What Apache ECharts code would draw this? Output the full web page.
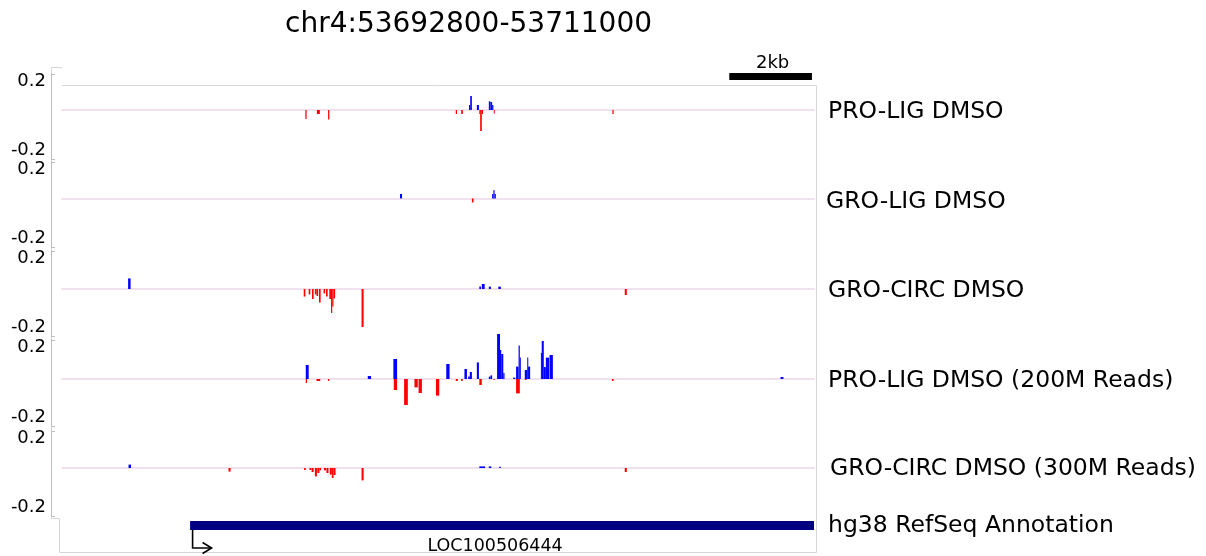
<!DOCTYPE html>
<html>
<head>
<meta charset="utf-8">
<script src="https://cdn.jsdelivr.net/npm/echarts@6/dist/echarts.min.js"></script>
<style>
  html, body { margin: 0; padding: 0; background: #fff; }
  #chart { width: 1206px; height: 556px; }
</style>
</head>
<body>
<div id="chart"></div>
<script>
// Genomic window shown
const REGION_CHROM = 'chr4';
const REGION_START = 53692800;
const REGION_END = 53711000;

// Track names, top to bottom
const trackNames = [
  'PRO-LIG DMSO',
  'GRO-LIG DMSO',
  'GRO-CIRC DMSO',
  'PRO-LIG DMSO (200M Reads)',
  'GRO-CIRC DMSO (300M Reads)'
];

// Signal intervals [start, end, value] (bedGraph style), plus / minus strand
const proLigPlus = [
  [53702650, 53702680, 0.025], [53702680, 53702720, 0.07],
  [53702840, 53702890, 0.025], [53703130, 53703170, 0.043],
  [53703170, 53703210, 0.04], [53703210, 53703240, 0.025]
];
const proLigMinus = [
  [53698690, 53698720, -0.045], [53698970, 53699040, -0.02],
  [53699240, 53699270, -0.047], [53702330, 53702360, -0.02],
  [53702460, 53702500, -0.02], [53702900, 53702920, -0.02],
  [53702920, 53702960, -0.105], [53702960, 53702990, -0.02],
  [53703250, 53703270, -0.018], [53706120, 53706150, -0.02]
];

const groLigPlus = [
  [53700980, 53701030, 0.022], [53703210, 53703240, 0.022],
  [53703240, 53703270, 0.04], [53703270, 53703300, 0.022]
];
const groLigMinus = [
  [53702720, 53702760, -0.02]
];

const groCircPlus = [
  [53694400, 53694460, 0.053], [53702900, 53702940, 0.012],
  [53702960, 53703030, 0.025], [53703130, 53703180, 0.012],
  [53703360, 53703420, 0.012]
];
const groCircMinus = [
  [53698650, 53698690, -0.038], [53698770, 53698810, -0.027],
  [53698850, 53698890, -0.05], [53698920, 53698960, -0.027],
  [53698960, 53699000, -0.035], [53699020, 53699060, -0.068],
  [53699130, 53699170, -0.022], [53699190, 53699230, -0.038],
  [53699270, 53699310, -0.05], [53699310, 53699340, -0.12],
  [53699340, 53699370, -0.088], [53699370, 53699410, -0.047],
  [53700050, 53700100, -0.19], [53706420, 53706470, -0.03]
];

const proLig200Plus = [
  [53698700, 53698770, 0.07], [53700200, 53700280, 0.015],
  [53700820, 53700910, 0.1], [53702100, 53702180, 0.075],
  [53702540, 53702600, 0.05], [53702630, 53702670, 0.013],
  [53702670, 53702720, 0.035], [53702840, 53702890, 0.083],
  [53703130, 53703170, 0.012], [53703170, 53703210, 0.018],
  [53703330, 53703400, 0.225], [53703400, 53703430, 0.145],
  [53703430, 53703480, 0.125], [53703480, 53703510, 0.03],
  [53703720, 53703770, 0.007], [53703790, 53703850, 0.062],
  [53703850, 53703880, 0.167], [53703880, 53703900, 0.107],
  [53704000, 53704060, 0.045], [53704060, 53704080, 0.107],
  [53704080, 53704130, 0.062], [53704390, 53704410, 0.13],
  [53704410, 53704460, 0.19], [53704460, 53704510, 0.06],
  [53704510, 53704590, 0.107], [53704600, 53704680, 0.12],
  [53710190, 53710260, 0.01]
];
const proLig200Minus = [
  [53698700, 53698730, -0.02], [53698960, 53699050, -0.01],
  [53699240, 53699270, -0.01], [53700830, 53700910, -0.055],
  [53701080, 53701170, -0.13], [53701330, 53701410, -0.042],
  [53701430, 53701510, -0.07], [53701850, 53701930, -0.083],
  [53702330, 53702380, -0.01], [53702460, 53702500, -0.01],
  [53702900, 53702960, -0.03], [53703240, 53703270, -0.005],
  [53703790, 53703880, -0.072], [53704000, 53704040, -0.005],
  [53706110, 53706150, -0.01]
];

const groCirc300Plus = [
  [53694410, 53694470, 0.017], [53702900, 53703040, 0.008],
  [53703130, 53703190, 0.008], [53703380, 53703420, 0.006]
];
const groCirc300Minus = [
  [53696830, 53696880, -0.018], [53698660, 53698700, -0.01],
  [53698790, 53698830, -0.01], [53698840, 53698890, -0.02],
  [53698920, 53698970, -0.042], [53698980, 53699030, -0.025],
  [53699030, 53699070, -0.012], [53699140, 53699190, -0.012],
  [53699200, 53699250, -0.025], [53699280, 53699330, -0.033],
  [53699330, 53699370, -0.05], [53699370, 53699420, -0.035],
  [53700050, 53700100, -0.062], [53706420, 53706470, -0.02]
];

const plusTracks = [proLigPlus, groLigPlus, groCircPlus, proLig200Plus, groCirc300Plus];
const minusTracks = [proLigMinus, groLigMinus, groCircMinus, proLig200Minus, groCirc300Minus];

// Value range of each track [min, max]
const trackRanges = [
  [-0.245, 0.18],
  [-0.24, 0.18],
  [-0.235, 0.19],
  [-0.235, 0.195],
  [-0.24, 0.185]
];

// RefSeq annotation
const annotationName = 'hg38 RefSeq Annotation';
const genes = [
  { name: 'LOC100506444', start: 53695900, end: 53712500, strand: '+' }
];

// Scale bar
const scaleBar = { start: 53708950, end: 53710950, label: '2kb' };

// ---- layout ----
const FONT = '"DejaVu Sans", "Liberation Sans", sans-serif';
const PLOT_LEFT = 62;
const PLOT_WIDTH = 752;
const trackTops = [74, 162, 251, 340, 431];
const trackHeights = [85, 85, 85, 86, 85];
const labelX = [828, 826, 828, 828, 830];
const labelY = [112, 202, 291, 381, 469];
const PLUS_COLOR = '#0000ff';
const MINUS_COLOR = '#ff0000';

const chart = echarts.init(document.getElementById('chart'), null, { renderer: 'canvas' });

const grids = [];
const xAxes = [];
const yAxes = [];
const series = [];

function signalRenderer(color) {
  return function (params, api) {
    const a = api.coord([api.value(0), 0]);
    const b = api.coord([api.value(1), api.value(2)]);
    return {
      type: 'rect',
      shape: {
        x: a[0],
        y: Math.min(a[1], b[1]),
        width: Math.max(b[0] - a[0], 1),
        height: Math.abs(b[1] - a[1])
      },
      style: { fill: color }
    };
  };
}

trackNames.forEach((name, i) => {
  const [ymin, ymax] = trackRanges[i];
  grids.push({ left: PLOT_LEFT, width: PLOT_WIDTH, top: trackTops[i], height: trackHeights[i] });
  xAxes.push({
    type: 'value', gridIndex: i, min: REGION_START, max: REGION_END,
    axisLine: { show: true, onZero: true, lineStyle: { color: '#f1e1ee', width: 2 } },
    axisTick: { show: false }, axisLabel: { show: false }, splitLine: { show: false }
  });
  yAxes.push({
    type: 'value', gridIndex: i, min: ymin, max: ymax, position: 'left', offset: 11,
    axisLine: { show: true, lineStyle: { color: '#bdbdbd', width: 1 } },
    axisTick: { show: true, inside: true, length: 4, customValues: [ymin, ymax],
      lineStyle: { color: '#bdbdbd' } },
    axisLabel: {
      show: true, customValues: [ymin, ymax], margin: 5,
      formatter: v => (v > 0 ? '{hi|' : '{lo|') + v.toFixed(1) + '}',
      rich: {
        hi: { fontFamily: FONT, fontSize: 18, color: '#000', padding: [14, 0, 0, 0] },
        lo: { fontFamily: FONT, fontSize: 18, color: '#000', padding: [0, 0, 18, 0] }
      }
    },
    splitLine: { show: false }
  });
  series.push({
    type: 'custom', name: name + ' +', xAxisIndex: i, yAxisIndex: i,
    encode: { x: [0, 1], y: 2 }, data: plusTracks[i], renderItem: signalRenderer(PLUS_COLOR),
    silent: true
  });
  series.push({
    type: 'custom', name: name + ' -', xAxisIndex: i, yAxisIndex: i,
    encode: { x: [0, 1], y: 2 }, data: minusTracks[i], renderItem: signalRenderer(MINUS_COLOR),
    silent: true
  });
});

// gene annotation panel
const GENE_GRID = trackNames.length;
grids.push({ left: PLOT_LEFT, width: PLOT_WIDTH, top: 518, height: 34 });
xAxes.push({ type: 'value', gridIndex: GENE_GRID, min: REGION_START, max: REGION_END, show: false });
yAxes.push({ type: 'value', gridIndex: GENE_GRID, min: 0, max: 1, show: false });
series.push({
  type: 'custom', name: annotationName, xAxisIndex: GENE_GRID, yAxisIndex: GENE_GRID,
  encode: { x: [0, 1] }, data: genes.map(g => [g.start, g.end]), silent: true,
  renderItem(params, api) {
    const cs = params.coordSys;
    const gene = genes[params.dataIndex];
    const x0 = api.coord([api.value(0), 0])[0];
    const x1 = Math.min(api.coord([api.value(1), 0])[0], cs.x + cs.width);
    const top = cs.y + 3;
    const ax = x0 + 2.5;
    const ay = cs.y + 30;
    return {
      type: 'group',
      children: [
        { type: 'rect', shape: { x: x0, y: top, width: x1 - x0, height: 9 }, style: { fill: '#000080' } },
        { type: 'polyline', shape: { points: [[ax, top + 9], [ax, ay], [ax + 19, ay]] },
          style: { stroke: '#000', lineWidth: 1.6, fill: null } },
        { type: 'polyline', shape: { points: [[ax + 10, ay - 5.5], [ax + 19, ay], [ax + 10, ay + 5.5]] },
          style: { stroke: '#000', lineWidth: 1.6, fill: null } },
        { type: 'text', style: { text: gene.name, x: (x0 + x1) / 2 - 7, y: cs.y + 28,
          align: 'center', verticalAlign: 'middle', font: '17.5px ' + FONT, fill: '#000' } }
      ]
    };
  }
});

// scale bar panel
const SCALE_GRID = GENE_GRID + 1;
grids.push({ left: PLOT_LEFT, width: PLOT_WIDTH, top: 60, height: 22 });
xAxes.push({ type: 'value', gridIndex: SCALE_GRID, min: REGION_START, max: REGION_END, show: false });
yAxes.push({ type: 'value', gridIndex: SCALE_GRID, min: 0, max: 1, show: false });
series.push({
  type: 'custom', name: 'scale', xAxisIndex: SCALE_GRID, yAxisIndex: SCALE_GRID,
  encode: { x: [0, 1] }, data: [[scaleBar.start, scaleBar.end]], silent: true,
  renderItem(params, api) {
    const cs = params.coordSys;
    const x0 = api.coord([api.value(0), 0])[0];
    const x1 = api.coord([api.value(1), 0])[0];
    return {
      type: 'group',
      children: [
        { type: 'rect', shape: { x: x0, y: cs.y + 13, width: x1 - x0, height: 7 }, style: { fill: '#000' } },
        { type: 'text', style: { text: scaleBar.label, x: (x0 + x1) / 2 + 2, y: cs.y + 3,
          align: 'center', verticalAlign: 'middle', font: '18px ' + FONT, fill: '#000' } }
      ]
    };
  }
});

// track names on the right and the panel frame
const graphics = trackNames.map((name, i) => ({
  type: 'text', x: labelX[i], y: labelY[i], silent: true,
  style: { text: name, font: '23.5px ' + FONT, fill: '#000', verticalAlign: 'middle' }
}));
graphics.push({
  type: 'text', x: 828, y: 526, silent: true,
  style: { text: annotationName, font: '23.5px ' + FONT, fill: '#000', verticalAlign: 'middle' }
});
graphics.push({
  type: 'polyline', silent: true, z: -1,
  shape: { points: [[62, 85.5], [816.5, 85.5], [816.5, 552.5], [59.5, 552.5], [59.5, 518.5],
                    [51.5, 518.5], [51.5, 67.5], [62, 67.5]] },
  style: { stroke: '#d6d6d6', lineWidth: 1, fill: null }
});

chart.setOption({
  animation: false,
  backgroundColor: '#fff',
  title: {
    text: REGION_CHROM + ':' + REGION_START + '-' + REGION_END,
    left: 280, top: 6,
    textStyle: { fontFamily: FONT, fontSize: 28, fontWeight: 'normal', color: '#000' }
  },
  grid: grids,
  xAxis: xAxes,
  yAxis: yAxes,
  series: series,
  graphic: graphics
});
</script>
</body>
</html>
